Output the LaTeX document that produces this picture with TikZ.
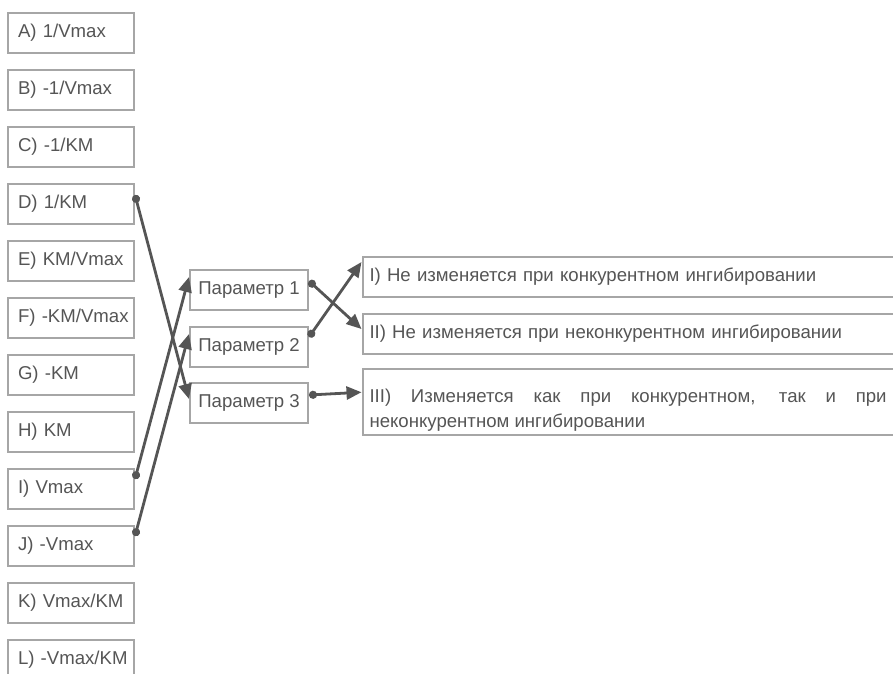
\documentclass[tikz,border=0pt]{standalone}
\usepackage{fontspec}
\setmainfont{Liberation Sans}
\usepackage{xcolor}
\usetikzlibrary{arrows.meta}
\definecolor{boxgray}{HTML}{A6A6A6}
\definecolor{inkgray}{HTML}{555555}

\begin{document}
\begin{tikzpicture}[
    x=1pt, y=-1pt,
    every node/.style={font=\fontsize{18.6}{25}\selectfont, text=inkgray},
    choice/.style={rectangle, draw=boxgray, line width=2pt, minimum height=40pt,
        inner xsep=10pt, text width=106pt, align=left},
    param/.style={rectangle, draw=boxgray, line width=2pt, minimum height=40pt,
        minimum width=118pt},
    prop/.style={rectangle, draw=boxgray, line width=2pt, minimum height=40pt,
        inner xsep=7pt, text width=517pt, align=left},
    link/.style={draw=inkgray, line width=2.8pt, {Circle[length=8pt]}-{Triangle[length=15pt,width=13pt]}}
]
    \useasboundingbox (0,0) rectangle (893,673);

    % left column
    \node[choice] (cA) at (71,33) {A) 1/Vmax};
    \node[choice] (cB) at (71,90) {B) -1/Vmax};
    \node[choice] (cC) at (71,147) {C) -1/KM};
    \node[choice] (cD) at (71,204) {D) 1/KM};
    \node[choice] (cE) at (71,261) {\mbox{E) KM/Vmax}};
    \node[choice] (cF) at (71,318) {\mbox{F) -KM/Vmax}};
    \node[choice] (cG) at (71,375) {G) -KM};
    \node[choice] (cH) at (71,432) {H) KM};
    \node[choice] (cI) at (71,489) {I) Vmax};
    \node[choice] (cJ) at (71,546) {J) -Vmax};
    \node[choice] (cK) at (71,603) {\mbox{K) Vmax/KM}};
    \node[choice] (cL) at (71,660) {\mbox{L) -Vmax/KM}};

    % parameters
    \node[param] (p1) at (249,290) {Параметр 1};
    \node[param] (p2) at (249,347) {Параметр 2};
    \node[param] (p3) at (249,403) {Параметр 3};

    % properties
    \node[prop] (r1) at (628,277) {I) Не изменяется при конкурентном ингибировании};
    \node[prop] (r2) at (628,334) {II) Не изменяется при неконкурентном ингибировании};
    \node[prop, minimum height=62pt, align=justify] (r3) at (628,402)
        {\tolerance=9999\hyphenpenalty=10000\rule{0pt}{30pt}III) Изменяется как при конкурентном, так и при неконкурентном ингибировании};

    \draw[link] ([yshift=-12pt]cD.north east) -- ([yshift=-17pt]p3.north west);
    \draw[link] ([yshift=-11pt]cI.north east) -- ([yshift=-8pt]p1.north west);
    \draw[link] ([yshift=-11pt]cJ.north east) -- ([yshift=-8pt]p2.north west);
    \draw[link] ([yshift=-12pt]p1.north east) -- ([yshift=-16pt]r2.north west);
    \draw[link] ([yshift=-11pt]p2.north east) -- ([yshift=-6pt]r1.north west);
    \draw[link] ([yshift=-13pt]p3.north east) -- ([yshift=-24pt]r3.north west);
\end{tikzpicture}
\end{document}
